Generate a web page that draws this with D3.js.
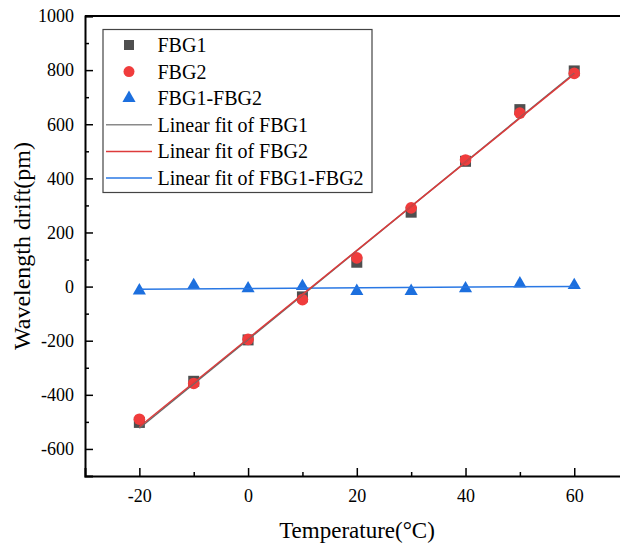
<!DOCTYPE html>
<html>
<head>
<meta charset="utf-8">
<script src="https://cdn.jsdelivr.net/npm/d3@7"></script>
<style>
  body { margin: 0; background: #fff; }
  svg { display: block; }
  text { font-family: "Liberation Serif", "Times New Roman", serif; fill: #000; }
</style>
</head>
<body>
<svg id="chart" width="620" height="545"></svg>
<script>
const temps = [-20, -10, 0, 10, 20, 30, 40, 50, 60];
const fbg1 = [-502, -350, -197, -38, 90, 275, 463, 654, 797];
const fbg2 = [-490, -358, -195, -48, 106, 291, 468, 641, 788];
const diff = [-15, 5, -7, 1, -17, -17, -7, 11, 5];

const xMajor = [-20, 0, 20, 40, 60];
const xMinor = [-10, 10, 30, 50];
const yMajor = [-600, -400, -200, 0, 200, 400, 600, 800, 1000];
const yMinor = [-500, -300, -100, 100, 300, 500, 700, 900];

const colors = { fbg1: "#4f4f4f", fbg2: "#f03c3c", diff: "#1c6fde", fit1: "#6a6a6a", fit2: "#dd3b3b", fitd: "#2a78e4" };

const svg = d3.select("#chart");
const plotLeft = 85, plotTop = 16, plotBottom = 476, plotRight = 628.6;

const x = d3.scaleLinear().domain([-30, 70]).range([plotLeft, plotRight]);
const y = d3.scaleLinear().domain([-700, 1000]).range([plotBottom, plotTop]);

// least squares fit
function fit(xs, ys) {
  const n = xs.length;
  const mx = d3.mean(xs), my = d3.mean(ys);
  let sxy = 0, sxx = 0;
  for (let i = 0; i < n; i++) {
    sxy += (xs[i] - mx) * (ys[i] - my);
    sxx += (xs[i] - mx) * (xs[i] - mx);
  }
  const b = sxy / sxx;
  return { a: my - b * mx, b: b };
}

// top frame line
svg.append("line")
  .attr("x1", plotLeft).attr("x2", plotRight)
  .attr("y1", plotTop).attr("y2", plotTop)
  .attr("stroke", "#000").attr("stroke-width", 2);

const plain = d => String(d); // keep ascii hyphen for negatives

// axes
svg.append("g")
  .attr("transform", `translate(0,${plotBottom})`)
  .call(d3.axisBottom(x).tickValues(xMajor).tickSize(-8).tickPadding(13).tickFormat(plain));
svg.append("g")
  .attr("transform", `translate(0,${plotBottom})`)
  .call(d3.axisBottom(x).tickValues(xMinor).tickSize(-4).tickFormat(""))
  .call(g => g.select(".domain").remove());

svg.append("g")
  .attr("transform", `translate(${plotLeft},0)`)
  .call(d3.axisLeft(y).tickValues(yMajor).tickSize(-8).tickPadding(11).tickFormat(plain));
svg.append("g")
  .attr("transform", `translate(${plotLeft},0)`)
  .call(d3.axisLeft(y).tickValues(yMinor).tickSize(-4).tickFormat(""))
  .call(g => g.select(".domain").remove());

svg.selectAll("g").attr("font-family", null).attr("font-size", null);
svg.selectAll(".domain").attr("stroke-width", 2);
svg.selectAll(".tick line").attr("stroke-width", 1.5);
svg.selectAll(".tick text")
  .attr("font-family", "Liberation Serif, serif")
  .attr("font-size", 18);

// axis titles
svg.append("text")
  .attr("x", 357).attr("y", 538)
  .attr("text-anchor", "middle")
  .style("font-size", "23px")
  .text("Temperature(°C)");

svg.append("text")
  .attr("transform", `translate(30,${(plotTop + plotBottom) / 2}) rotate(-90)`)
  .attr("text-anchor", "middle")
  .style("font-size", "24px")
  .text("Wavelength drift(pm)");

// markers
const pts = temps.map((t, i) => ({ t: t, a: fbg1[i], b: fbg2[i], d: diff[i] }));

svg.append("g").selectAll("rect").data(pts).enter().append("rect")
  .attr("x", d => x(d.t) - 5.5).attr("y", d => y(d.a) - 5.5)
  .attr("width", 11).attr("height", 11)
  .attr("fill", colors.fbg1);

svg.append("g").selectAll("circle").data(pts).enter().append("circle")
  .attr("cx", d => x(d.t)).attr("cy", d => y(d.b)).attr("r", 5.8)
  .attr("fill", colors.fbg2);

const tri = d3.symbol().type(d3.symbolTriangle).size(75);
svg.append("g").selectAll("path").data(pts).enter().append("path")
  .attr("transform", d => `translate(${x(d.t)},${y(d.d)})`)
  .attr("d", tri)
  .attr("fill", colors.diff);

// fit lines
const fits = [
  { f: fit(temps, diff), c: colors.fitd },
  { f: fit(temps, fbg1), c: colors.fit1 },
  { f: fit(temps, fbg2), c: colors.fit2 }
];
const x0 = d3.min(temps), x1 = d3.max(temps);
svg.append("g").selectAll("line").data(fits).enter().append("line")
  .attr("x1", x(x0)).attr("x2", x(x1))
  .attr("y1", d => y(d.f.a + d.f.b * x0))
  .attr("y2", d => y(d.f.a + d.f.b * x1))
  .attr("stroke", d => d.c)
  .attr("stroke-width", 1.5);

// legend
const legendItems = [
  { label: "FBG1", kind: "square", c: colors.fbg1 },
  { label: "FBG2", kind: "circle", c: colors.fbg2 },
  { label: "FBG1-FBG2", kind: "triangle", c: colors.diff },
  { label: "Linear fit of FBG1", kind: "line", c: "#8a8a8a" },
  { label: "Linear fit of FBG2", kind: "line", c: colors.fit2 },
  { label: "Linear fit of FBG1-FBG2", kind: "line", c: colors.fitd }
];
const lg = svg.append("g");
lg.append("rect")
  .attr("x", 103).attr("y", 29.5)
  .attr("width", 269).attr("height", 163)
  .attr("fill", "#fff").attr("stroke", "#444").attr("stroke-width", 1.2);

const rowY = i => 45 + i * 26.6;
legendItems.forEach((d, i) => {
  const cy = rowY(i);
  if (d.kind === "square") {
    lg.append("rect").attr("x", 124).attr("y", cy - 5).attr("width", 10).attr("height", 10).attr("fill", d.c);
  } else if (d.kind === "circle") {
    lg.append("circle").attr("cx", 129).attr("cy", cy).attr("r", 5.5).attr("fill", d.c);
  } else if (d.kind === "triangle") {
    lg.append("path").attr("transform", `translate(129,${cy})`).attr("d", tri).attr("fill", d.c);
  } else {
    lg.append("line").attr("x1", 106).attr("x2", 152).attr("y1", cy).attr("y2", cy)
      .attr("stroke", d.c).attr("stroke-width", 1.5);
  }
  lg.append("text")
    .attr("x", 157.5).attr("y", cy).attr("dy", "0.35em")
    .style("font-size", "20px")
    .text(d.label);
});
</script>
</body>
</html>
